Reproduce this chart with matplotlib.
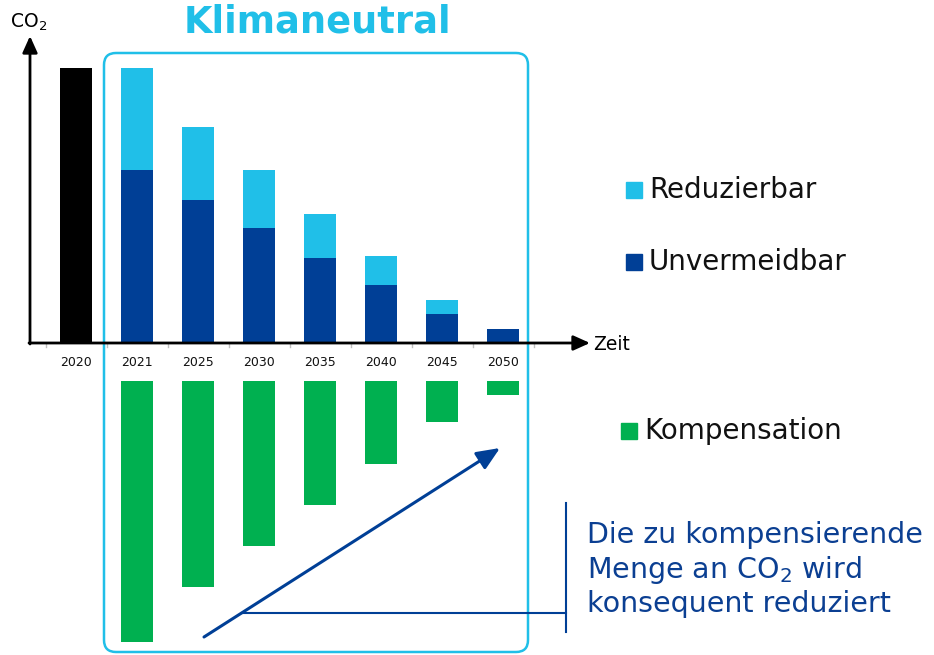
import matplotlib
matplotlib.use("Agg")
import matplotlib.pyplot as plt
import matplotlib.transforms as mtransforms
from matplotlib.patches import FancyBboxPatch, Rectangle

# ---------------- data ----------------
years = ["2020", "2021", "2025", "2030", "2035", "2040", "2045", "2050"]
total_2020 = [100, 0, 0, 0, 0, 0, 0, 0]
unvermeidbar = [0, 63, 52, 42, 31, 21, 10.5, 5]
reduzierbar = [0, 37, 26.5, 21, 16, 10.5, 5, 0]
kompensation = [0, 95, 75, 60, 45, 30, 15, 5]
series_names = ["Reduzierbar", "Unvermeidbar", "Kompensation"]

# ---------------- style ----------------
C_LIGHT = "#20BFE8"
C_DARK = "#003F96"
C_GREEN = "#00B050"
C_TEXT_BLUE = "#0B3F92"
W, H = 934, 655

plt.rcParams["font.family"] = ["DejaVu Sans"]
plt.rcParams["mathtext.fontset"] = "dejavusans"

fig = plt.figure(figsize=(W / 100, H / 100), dpi=100)
ax = fig.add_axes([0, 0, 1, 1])
ax.axis("off")

# data scale: category i at pixel 76 + 61*i ; value v at pixel 343 - 2.75*v
X0, DX = 76.0, 61.0
Y0, DY = 343.0, 2.75
ax.set_xlim(-X0 / DX, (W - X0) / DX)
ax.set_ylim((Y0 - H) / DY, Y0 / DY)

# pixel transform (origin top-left) for decorations
pix = mtransforms.Affine2D().scale(1 / W, -1 / H).translate(0, 1) + fig.transFigure

x = list(range(len(years)))
bw = 0.51
gap = 38 / DY

ax.bar(x, total_2020, width=bw, color="black", zorder=3)
ax.bar(x, unvermeidbar, width=bw, color=C_DARK, zorder=3)
ax.bar(x, reduzierbar, width=bw, bottom=unvermeidbar, color=C_LIGHT, zorder=3)
ax.bar(x, [-k for k in kompensation], width=bw, bottom=-gap, color=C_GREEN, zorder=3)

# category boundary ticks
for i in range(len(years) + 1):
    ax.plot([i - 0.5, i - 0.5], [0, -4 / DY], color="#bfbfbf", lw=1, zorder=2)

# tick labels
for i, yr in enumerate(years):
    ax.text(i, -19 / DY, yr, ha="center", va="center", fontsize=9, color="#111111")

# axes arrows
arrow_kw = dict(arrowstyle="-|>,head_length=1.0,head_width=0.45", color="black",
                lw=2, shrinkA=0, shrinkB=0, mutation_scale=10)
ax.annotate("", xy=(30, 36), xytext=(30, 344), xycoords=pix, textcoords=pix,
            arrowprops=arrow_kw, zorder=5)
ax.annotate("", xy=(590, 343), xytext=(29, 343), xycoords=pix, textcoords=pix,
            arrowprops=arrow_kw, zorder=5)
ax.text(10, 22, "CO$_2$", transform=pix, fontsize=13.5, ha="left", va="center")
ax.text(593, 345, "Zeit", transform=pix, fontsize=13.5, ha="left", va="center")

# rounded box and title
box = FancyBboxPatch((104, 53), 424, 599, boxstyle="round,pad=0,rounding_size=12",
                     transform=pix, fill=False, edgecolor=C_LIGHT, lw=1.8, zorder=1)
ax.add_patch(box)
ax.text(317, 22, "Klimaneutral", transform=pix, fontsize=26.5, fontweight="bold",
        color=C_LIGHT, ha="center", va="center")

# legend (manual)
legend_items = [(series_names[0], C_LIGHT, 626, 190),
                (series_names[1], C_DARK, 626, 262),
                (series_names[2], C_GREEN, 621, 431)]
for name, col, lx, ly in legend_items:
    ax.add_patch(Rectangle((lx, ly - 8), 16, 16, transform=pix, color=col, zorder=3))
    ax.text(lx + 23, ly, name, transform=pix, fontsize=20, ha="left", va="center",
            color="#111111")

# annotation arrow + bracket
ax.annotate("", xy=(500, 448), xytext=(204, 637), xycoords=pix, textcoords=pix,
            arrowprops=dict(arrowstyle="-|>,head_length=1.4,head_width=0.6",
                            color=C_DARK, lw=2.2, shrinkA=0, shrinkB=0,
                            mutation_scale=10), zorder=5)
ax.plot([242, 566], [613, 613], transform=pix, color=C_DARK, lw=1.5, zorder=5)
ax.plot([566, 566], [503, 632], transform=pix, color=C_DARK, lw=1.5, zorder=5)

lines = ["Die zu kompensierende", "Menge an CO$_2$ wird", "konsequent reduziert"]
for k, t in enumerate(lines):
    ax.text(587, 535 + 34.5 * k, t, transform=pix, fontsize=20.5, ha="left",
            va="center", color=C_TEXT_BLUE)

fig.savefig("out.png", dpi=100)
